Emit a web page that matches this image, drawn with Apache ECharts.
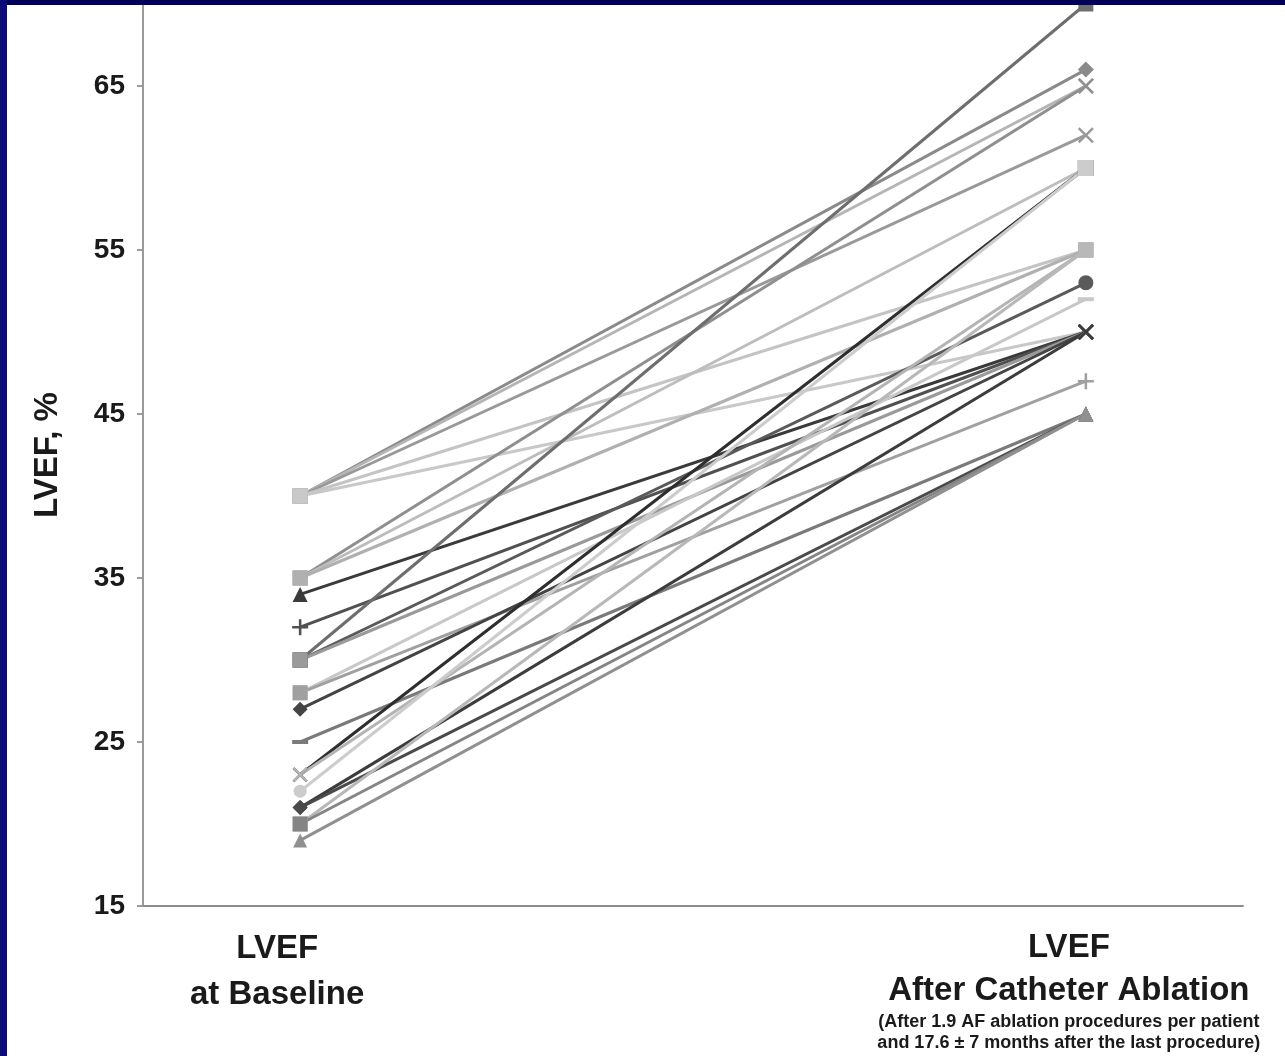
<!DOCTYPE html>
<html>
<head>
<meta charset="utf-8">
<script src="https://cdn.jsdelivr.net/npm/echarts@6/dist/echarts.min.js"></script>
<style>
html,body{margin:0;padding:0;background:#fff;}
#c{width:1285px;height:1056px;}
</style>
</head>
<body>
<div id="c"></div>
<script>
// ---- data ----
const categories = ['LVEF at Baseline', 'LVEF After Catheter Ablation'];
const baseline = [40, 40, 40, 40, 40, 35, 35, 35, 34, 32, 30, 30, 30, 28, 28, 27, 25, 23, 23, 22, 21, 21, 20, 20, 19];
const after    = [66, 65, 62, 55, 50, 65, 60, 55, 50, 50, 70, 53, 50, 52, 47, 50, 45, 60, 55, 60, 50, 45, 55, 45, 45];
const yTicks = [15, 25, 35, 45, 55, 65];

// ---- styles ----
const lineColors = ['#8a8a8a', '#b5b5b5', '#999999', '#c4c4c4', '#c8c8c8', '#8f8f8f', '#bdbdbd', '#b0b0b0',
  '#3a3a3a', '#505050', '#6e6e6e', '#5a5a5a', '#9a9a9a', '#c8c8c8', '#a0a0a0', '#444444', '#7a7a7a',
  '#2e2e2e', '#b4b4b4', '#cccccc', '#3c3c3c', '#4a4a4a', '#b8b8b8', '#858585', '#909090'];
const PLUS = 'path://M4.2,0H5.8V4.2H10V5.8H5.8V10H4.2V5.8H0V4.2H4.2Z';
const CROSS = 'path://M0,1.1L1.1,0L5,3.9L8.9,0L10,1.1L6.1,5L10,8.9L8.9,10L5,6.1L1.1,10L0,8.9L3.9,5Z';
const DASH = 'path://M0,0H10V2.5H0Z';
const symFor = {
  70: ['rect', 15], 66: ['diamond', 16], 65: [CROSS, 16], 62: [CROSS, 16], 60: ['rect', 16],
  55: ['rect', 15], 53: ['circle', 15], 52: [DASH, [16, 4]], 50: [CROSS, 16], 47: [PLUS, 16], 45: ['triangle', 15],
  40: ['rect', 15], 35: ['rect', 15], 34: ['triangle', 15], 32: [PLUS, 16], 30: ['rect', 15], 28: ['rect', 15],
  27: ['diamond', 15], 25: [DASH, [16, 4]], 23: [CROSS, 15], 22: ['circle', 13], 21: ['diamond', 15],
  20: ['rect', 15], 19: ['triangle', 14]
};
const symOf = v => symFor[v] || ['rect', 14];

const series = baseline.map((b, i) => {
  const a = after[i];
  const sb = symOf(b), sa = symOf(a);
  return {
    type: 'line',
    silent: true,
    animation: false,
    lineStyle: { color: lineColors[i], width: 3 },
    itemStyle: { color: lineColors[i], borderWidth: 0 },
    data: [
      { value: [0, b], symbol: sb[0], symbolSize: sb[1] },
      { value: [1, a], symbol: sa[0], symbolSize: sa[1] }
    ]
  };
});

const chart = echarts.init(document.getElementById('c'), null, { renderer: 'canvas' });
chart.setOption({
  backgroundColor: '#ffffff',
  animation: false,
  grid: { left: 143, right: 42, top: 4, bottom: 150, containLabel: false, outerBoundsMode: 'none' },
  xAxis: {
    type: 'value', min: -0.2, max: 1.2,
    axisLine: { show: true, onZero: false, lineStyle: { color: '#8c8c8c', width: 2 } },
    axisTick: { show: false },
    splitLine: { show: false },
    axisLabel: {
      customValues: [0, 1],
      margin: 20,
      formatter: v => {
        if (Math.abs(v) < 1e-6) return '{a|LVEF}\n{a|at Baseline}';
        if (Math.abs(v - 1) < 1e-6) return '{b|LVEF}\n{b|After Catheter Ablation}\n{s|(After 1.9 AF ablation procedures per patient}\n{s|and 17.6 \u00b1 7 months after the last procedure)}';
        return '';
      },
      rich: {
        a: { fontFamily: 'Liberation Sans', fontWeight: 'bold', fontSize: 33, lineHeight: 46, color: '#1a1a1a', padding: [0, 46, 0, 0] },
        b: { fontFamily: 'Liberation Sans', fontWeight: 'bold', fontSize: 33, lineHeight: 43, color: '#1a1a1a', padding: [0, 34, 0, 0] },
        s: { fontFamily: 'Liberation Sans', fontWeight: 'bold', fontSize: 18, lineHeight: 21, color: '#1a1a1a', padding: [0, 34, 0, 0] }
      }
    }
  },
  yAxis: {
    type: 'value', min: 15, max: 70,
    name: 'LVEF, %',
    nameLocation: 'middle',
    nameRotate: 90,
    nameGap: 79,
    nameTextStyle: { fontFamily: 'Liberation Sans', fontWeight: 'bold', fontSize: 33, color: '#1a1a1a' },
    axisLine: { show: true, onZero: false, lineStyle: { color: '#9a9a9a', width: 2 } },
    axisTick: { show: true, inside: false, length: 6, customValues: yTicks, lineStyle: { color: '#9a9a9a', width: 2 } },
    splitLine: { show: false },
    axisLabel: {
      customValues: yTicks,
      margin: 18,
      fontFamily: 'Liberation Sans', fontWeight: 'bold', fontSize: 28, color: '#1a1a1a'
    }
  },
  graphic: [
    { type: 'rect', left: 0, top: 0, shape: { width: 1285, height: 5 }, style: { fill: '#00005a' }, z: 100 },
    { type: 'rect', left: 0, top: 0, shape: { width: 7, height: 1056 }, style: { fill: '#0a0a78' }, z: 100 }
  ],
  series: series
});
</script>
</body>
</html>
